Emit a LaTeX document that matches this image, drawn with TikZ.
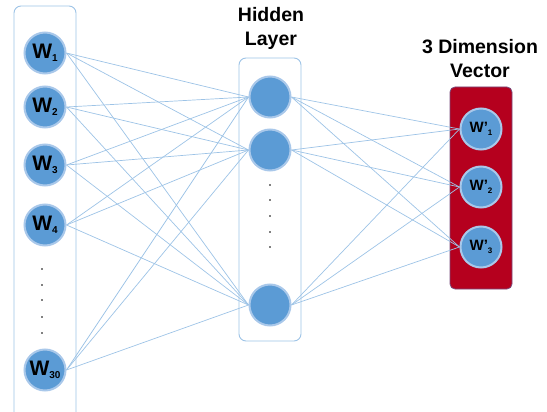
\documentclass[tikz,border=0pt]{standalone}
\usepackage{fontspec}
\setmainfont{Liberation Sans}
\usetikzlibrary{backgrounds}
\pgfdeclarelayer{boxes}
\pgfdeclarelayer{edges}
\pgfsetlayers{boxes,edges,main}
\definecolor{nblue}{HTML}{5B9BD5}
\definecolor{glow}{HTML}{A9C8EA}
\definecolor{eblue}{HTML}{9DC3E6}
\definecolor{vred}{HTML}{B5001E}
\newcommand{\wsub}[1]{W\raisebox{-3.5pt}{\fontsize{10}{10}\selectfont #1}}
\newcommand{\osub}[1]{W’\raisebox{-3pt}{\fontsize{8}{8}\selectfont #1}}
\tikzset{
  neuron/.style={circle, fill=nblue, draw=glow, line width=2pt, minimum size=41pt, inner sep=0pt, font=\bfseries\fontsize{21}{21}\selectfont},
  oneuron/.style={neuron, font=\bfseries\fontsize{15}{15}\selectfont},
  layerbox/.style={draw=eblue, line width=0.9pt, rounded corners=7pt},
  conn/.style={draw=eblue, line width=0.7pt},
  title/.style={font=\bfseries\fontsize{19.5}{24}\selectfont, align=center},
  vdot/.style={circle, fill=black, inner sep=0pt, minimum size=1.8pt}
}
\begin{document}
\begin{tikzpicture}[x=1pt, y=-1pt]
\useasboundingbox (0,0) rectangle (547,412);
\clip (0,0) rectangle (547,412);
% input nodes
\node[neuron] (i1) at (45,53) {\wsub{1}};
\node[neuron] (i2) at (45,107) {\wsub{2}};
\node[neuron] (i3) at (45,165) {\wsub{3}};
\node[neuron] (i4) at (45,225) {\wsub{4}};
\node[neuron] (i5) at (45,370) {\wsub{30}};
\foreach \y [count=\k] in {269,285,300,317,333} \node[vdot] (ld\k) at (42,\y) {};
% hidden nodes
\node[neuron] (h1) at (270,97) {};
\node[neuron] (h2) at (270,150) {};
\node[neuron] (h3) at (270,305) {};
\foreach \y [count=\k] in {185,200,216,232,247} \node[vdot] (hd\k) at (270,\y) {};
% output nodes
\node[oneuron] (o1) at (481,129) {\osub{1}};
\node[oneuron] (o2) at (481,187) {\osub{2}};
\node[oneuron] (o3) at (481,247) {\osub{3}};
% titles
\node[title] (th) at (271,28) {Hidden\\Layer};
\node[title] (tv) at (480,59) {3 Dimension\\Vector};
% boxes
\begin{pgfonlayer}{boxes}
\draw[layerbox] (14,6) rectangle (76,440);
\draw[layerbox] (239,58) rectangle (301,341);
\draw[fill=vred, draw=vred!60!blue!40!gray, line width=0.8pt, rounded corners=5pt] (450,87) rectangle (512,289);
\end{pgfonlayer}
% connectors
\begin{pgfonlayer}{edges}
\foreach \a in {i1,i2,i3,i4,i5}
  \foreach \b in {h1,h2,h3}
    \draw[conn] (\a.east) -- (\b.west);
\foreach \a in {h1,h2,h3}
  \foreach \b in {o1,o2,o3}
    \draw[conn] (\a.east) -- (\b.west);
\end{pgfonlayer}
\end{tikzpicture}
\end{document}
